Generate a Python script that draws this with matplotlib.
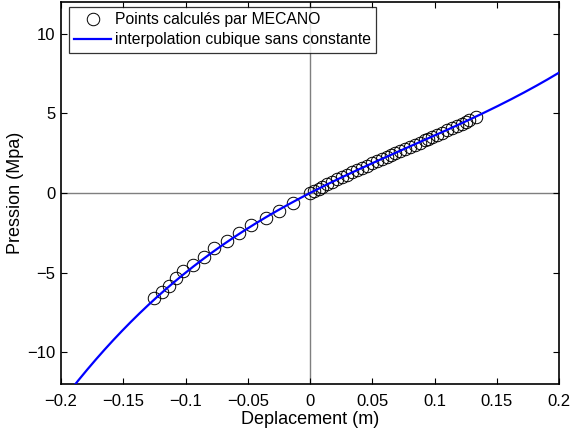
import numpy as np
import matplotlib
matplotlib.use("Agg")
import matplotlib.pyplot as plt

plt.rcParams['font.family'] = ['Liberation Sans', 'DejaVu Sans']

# Points computed by MECANO (displacement m, pressure MPa)
x_pts = [-0.125, -0.119, -0.113, -0.108, -0.102, -0.094, -0.085, -0.077,
         -0.067, -0.057, -0.047, -0.035, -0.025, -0.014, 0.0,
         0.003, 0.007, 0.010, 0.014, 0.018, 0.022, 0.026, 0.030, 0.034,
         0.038, 0.042, 0.046, 0.050, 0.054, 0.058, 0.062, 0.065, 0.068,
         0.072, 0.076, 0.080, 0.084, 0.088, 0.092, 0.095, 0.098, 0.102,
         0.106, 0.110, 0.114, 0.118, 0.122, 0.125, 0.128, 0.133]
y_pts = [-6.6, -6.2, -5.85, -5.35, -4.9, -4.5, -4.0, -3.45,
         -3.0, -2.5, -2.0, -1.55, -1.1, -0.6, 0.0,
         0.12, 0.28, 0.39, 0.55, 0.70, 0.85, 1.00, 1.15, 1.29,
         1.44, 1.58, 1.72, 1.86, 2.00, 2.14, 2.28, 2.38, 2.49,
         2.62, 2.76, 2.90, 3.03, 3.17, 3.31, 3.41, 3.51, 3.65,
         3.79, 3.93, 4.07, 4.21, 4.35, 4.46, 4.57, 4.80]

# Cubic fit without constant term: p = a*x + b*x^2 + c*x^3
coef_a, coef_b, coef_c = 40.2, -70.0, 290.0
x_range = [-0.2, 0.2]

xticks = [-0.2, -0.15, -0.1, -0.05, 0, 0.05, 0.1, 0.15, 0.2]
xticklabels = ['\u22120.2', '\u22120.15', '\u22120.1', '\u22120.05', '0', '0.05', '0.1', '0.15', '0.2']
yticks = [-10, -5, 0, 5, 10]
yticklabels = ['\u221210', '\u22125', '0', '5', '10']

fig = plt.figure(figsize=(5.71, 4.32), dpi=100)
ax = fig.add_axes([61/571, 48/432, 498/571, 382/432])

xc = np.linspace(x_range[0], x_range[1], 400)
yc = coef_a * xc + coef_b * xc**2 + coef_c * xc**3

ax.axhline(0, color='#7f7f7f', lw=1.0, zorder=1)
ax.axvline(0, color='#7f7f7f', lw=1.0, zorder=1)

ax.plot(x_pts, y_pts, 'o', mfc='none', mec='black', ms=9, mew=0.7,
        label='Points calculés par MECANO', zorder=3)
ax.plot(xc, yc, color='#0000ff', lw=1.6, label='interpolation cubique sans constante', zorder=4)

ax.set_xlim(-0.2, 0.2)
ax.set_ylim(-12, 12)
ax.set_xticks(xticks)
ax.set_xticklabels(xticklabels)
ax.set_yticks(yticks)
ax.set_yticklabels(yticklabels)
ax.tick_params(direction='in', top=True, right=True, length=4, width=0.8,
               labelsize=12)
ax.tick_params(axis='x', pad=7)
ax.tick_params(axis='y', pad=4)
for s in ax.spines.values():
    s.set_linewidth(1.2)

ax.set_xlabel('Deplacement (m)', fontsize=13, labelpad=2)
ax.set_ylabel('Pression (Mpa)', fontsize=13, labelpad=2)

leg = ax.legend(loc='upper left', bbox_to_anchor=(8/498, 1 - 5/382),
                fontsize=11.3, frameon=True, fancybox=False,
                edgecolor='black', borderaxespad=0.0, handlelength=2.3,
                borderpad=0.35, labelspacing=0.3, handletextpad=0.25)
leg.get_frame().set_linewidth(0.9)

fig.savefig('out.png', dpi=100)
